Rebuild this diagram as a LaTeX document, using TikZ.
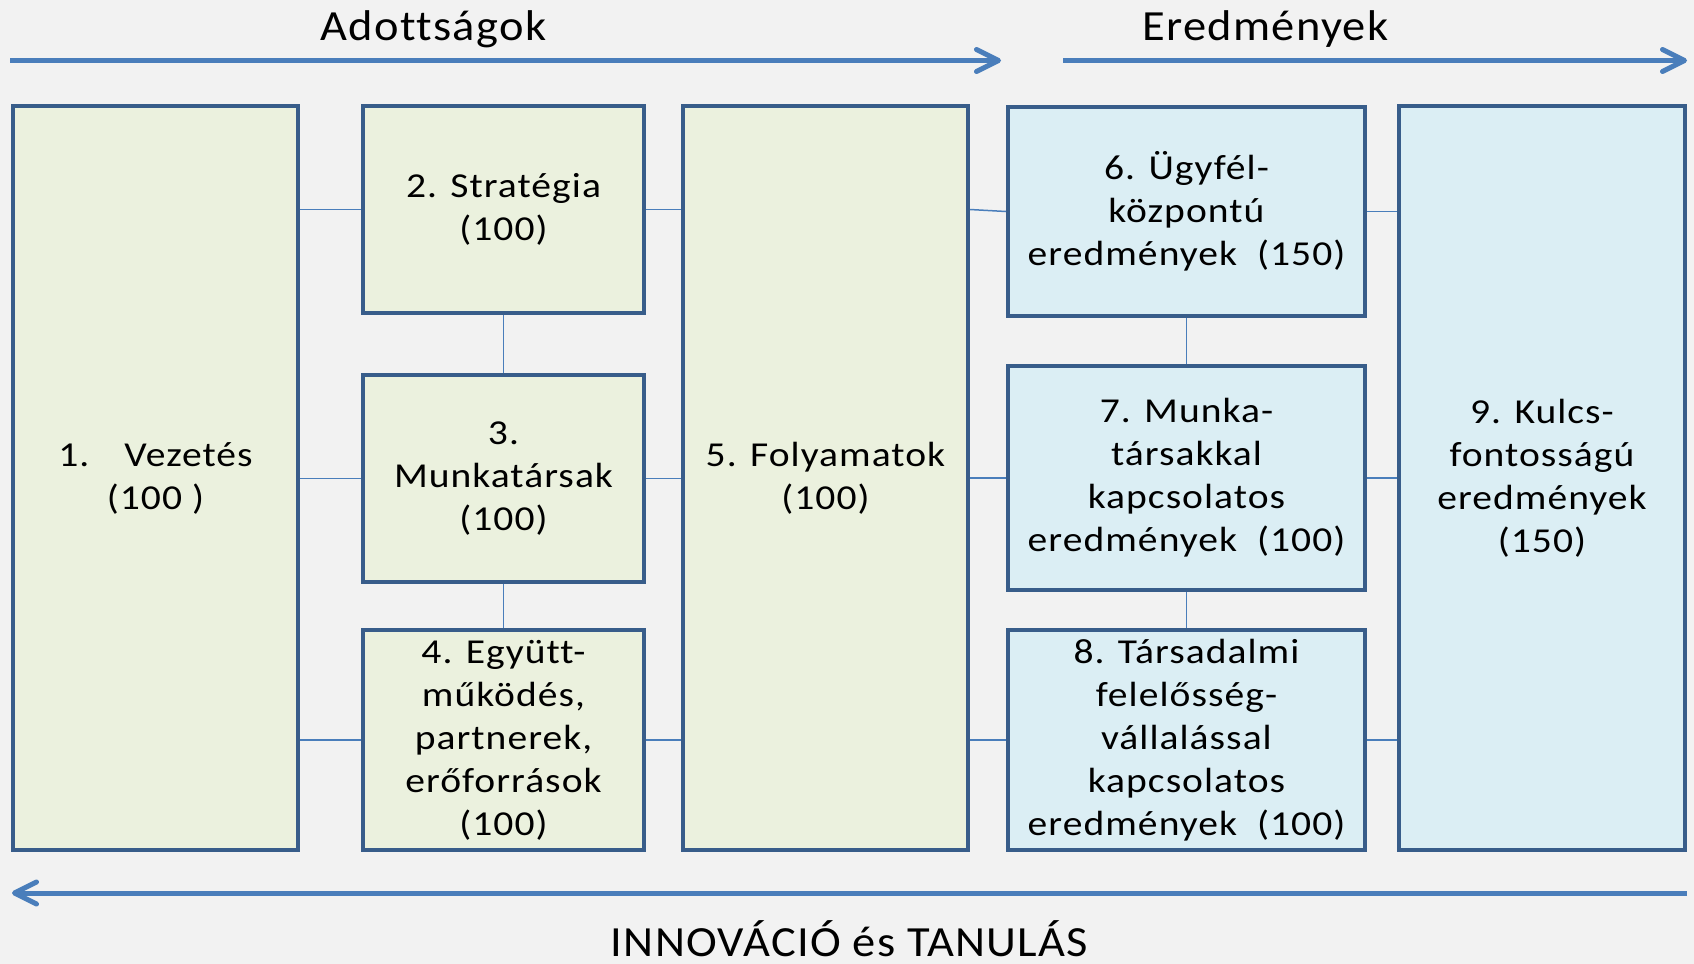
\documentclass[tikz,border=0pt]{standalone}
\usepackage{fontspec}
\setmainfont{Carlito}
\newfontfamily\boxfont[FakeStretch=1.13, LetterSpace=3, Ligatures=NoCommon]{Carlito}
\newfontfamily\titlefont[FakeStretch=1.08, LetterSpace=3, Ligatures=NoCommon]{Carlito}
\usetikzlibrary{arrows.meta}

\definecolor{bggray}{HTML}{F2F2F2}
\definecolor{boxborder}{HTML}{385D8A}
\definecolor{linkblue}{HTML}{4A7EBB}
\definecolor{adottfill}{HTML}{EBF1DE}
\definecolor{eredfill}{HTML}{DBEEF4}

\begin{document}
\begin{tikzpicture}[
    x=0.5pt, y=-0.5pt,
    box/.style={draw=boxborder, line width=2pt, align=center, inner sep=1pt,
                font=\boxfont\fontsize{17.5pt}{21.5pt}\selectfont},
    adott/.style={box, fill=adottfill},
    ered/.style={box, fill=eredfill},
    link/.style={draw=linkblue, line width=0.75pt},
    flow/.style={draw=linkblue, line width=2.5pt,
                 -{Straight Barb[length=11pt, width=11pt, round]}},
    title/.style={font=\titlefont\fontsize{21.5pt}{26pt}\selectfont, anchor=base, inner sep=0pt}
]

% Background and page size
\path[use as bounding box, fill=bggray] (0,0) rectangle (1694,964);

% Define boxes
\node[adott, minimum width=142.5pt, minimum height=372pt] (box1) at (155.5,478) {1.\hspace{1em}Vezetés\\(100 )};
\node[adott, minimum width=140.5pt, minimum height=103.5pt] (box2) at (503.5,209.5) {2. Stratégia\\(100)};
\node[adott, minimum width=140.5pt, minimum height=103.5pt] (box3) at (503.5,478.5) {3.\\Munkatársak\\(100)};
\node[adott, minimum width=140.5pt, minimum height=110pt] (box4) at (503.5,740) {4. Együtt-\\működés,\\partnerek,\\erőforrások\\(100)};
\node[adott, minimum width=142.5pt, minimum height=372pt] (box5) at (825.5,478) {5. Folyamatok\\(100)};
\node[ered, minimum width=178.5pt, minimum height=104.5pt] (box6) at (1186.5,211.5) {6. Ügyfél-\\központú\\eredmények\ \ (150)};
\node[ered, minimum width=178.5pt, minimum height=112pt] (box7) at (1186.5,478) {7. Munka-\\társakkal\\kapcsolatos\\eredmények\ \ (100)};
\node[ered, minimum width=178.5pt, minimum height=110pt] (box8) at (1186.5,740) {8. Társadalmi\\felelősség-\\vállalással\\kapcsolatos\\eredmények\ \ (100)};
\node[ered, minimum width=143pt, minimum height=372pt] (box9) at (1542,478) {9. Kulcs-\\fontosságú\\eredmények\\(150)};

% Define links between boxes
\draw[link] (box2.west) -- (box2.west -| box1.east);
\draw[link] (box3.west) -- (box3.west -| box1.east);
\draw[link] (box4.west) -- (box4.west -| box1.east);
\draw[link] (box2.east) -- (box2.east -| box5.west);
\draw[link] (box3.east) -- (box3.east -| box5.west);
\draw[link] (box4.east) -- (box4.east -| box5.west);
\draw[link] (box2) -- (box3);
\draw[link] (box3) -- (box4);
\draw[link] (box5.east |- box2) -- (box6.west);
\draw[link] (box7.west) -- (box7.west -| box5.east);
\draw[link] (box8.west) -- (box8.west -| box5.east);
\draw[link] (box6) -- (box7);
\draw[link] (box7) -- (box8);
\draw[link] (box6.east) -- (box6.east -| box9.west);
\draw[link] (box7.east) -- (box7.east -| box9.west);
\draw[link] (box8.east) -- (box8.east -| box9.west);

% Define flow arrows with titles
\coordinate (adott-start) at (10,60.5);
\coordinate (adott-end) at (1001,60.5);
\coordinate (ered-start) at (1063,60.5);
\coordinate (ered-end) at (1687,60.5);
\coordinate (innov-start) at (1687,893);
\coordinate (innov-end) at (12,893);
\draw[flow] (adott-start) -- (adott-end);
\draw[flow] (ered-start) -- (ered-end);
\draw[flow] (innov-start) -- (innov-end);

\node[title] (adott) at (433.5,40) {Adottságok};
\node[title] (ered) at (1265.5,40) {Eredmények};
\node[title] (innov) at (849.5,956) {INNOVÁCIÓ és TANULÁS};

\end{tikzpicture}
\end{document}
